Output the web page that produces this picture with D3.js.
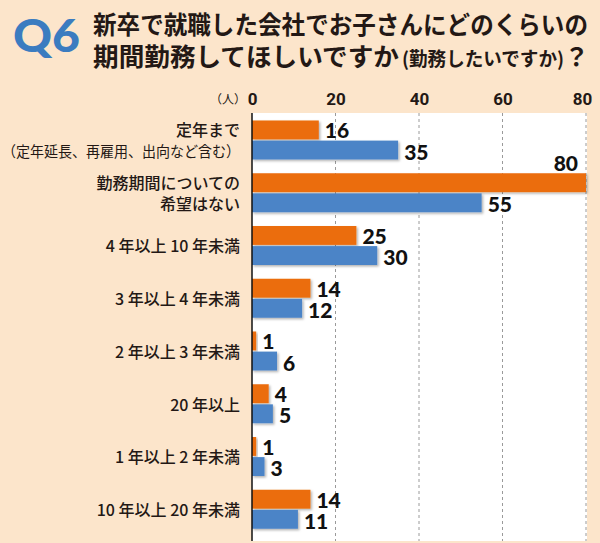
<!DOCTYPE html>
<html><head><meta charset="utf-8">
<script src="https://cdn.jsdelivr.net/npm/d3@7/dist/d3.min.js"></script>
<style>html,body{margin:0;padding:0;background:#FCE5CB;}svg{display:block;}</style>
</head><body><div id="chart"></div>
<script>
const categories = [
  ["定年まで", "（定年延長、再雇用、出向など含む）"],
  ["勤務期間についての", "希望はない"],
  ["4 年以上 10 年未満"],
  ["3 年以上 4 年未満"],
  ["2 年以上 3 年未満"],
  ["20 年以上"],
  ["1 年以上 2 年未満"],
  ["10 年以上 20 年未満"]
];
const seriesOrange = [16, 80, 25, 14, 1, 4, 1, 14];
const seriesBlue = [35, 55, 30, 12, 6, 5, 3, 11];
const tickValues = [0, 20, 40, 60, 80];
const unitLabel = "（人）";
const titleLine1 = "新卒で就職した会社でお子さんにどのくらいの";
const titleLine2a = "期間勤務してほしいですか";
const titleLine2b = "(勤務したいですか)";
const titleLine2c = "？";

const W = 600, H = 543;
const svg = d3.select("#chart").append("svg").attr("width", W).attr("height", H);
svg.append("rect").attr("width", W).attr("height", H).attr("fill", "#FCE5CB");

const defs = svg.append("defs");
const f = defs.append("filter").attr("id", "sh").attr("x", "-10%").attr("y", "-20%").attr("width", "130%").attr("height", "160%");
f.append("feDropShadow").attr("dx", 1.5).attr("dy", 1.5).attr("stdDeviation", 1).attr("flood-color", "#000").attr("flood-opacity", 0.3);

// title
svg.append("text").attr("x", 13).attr("y", 52).attr("font-family", "Lato, 'DejaVu Sans', sans-serif")
  .attr("font-weight", 900).attr("font-size", 45).attr("fill", "#3B7CC0")
  .attr("textLength", 67).attr("lengthAdjust", "spacingAndGlyphs").text("Q6");
const tf = "'Noto Sans CJK JP', sans-serif";
svg.append("text").attr("x", 93).attr("y", 34).attr("font-family", tf).attr("font-weight", 700)
  .attr("font-size", 25).attr("fill", "#231815").attr("textLength", 495).attr("lengthAdjust", "spacingAndGlyphs").text(titleLine1);
const t2 = svg.append("text").attr("y", 66).attr("font-family", tf).attr("font-weight", 700).attr("fill", "#231815");
t2.append("tspan").attr("x", 93).attr("font-size", 25).attr("textLength", 306).attr("lengthAdjust", "spacingAndGlyphs").text(titleLine2a);
t2.append("tspan").attr("x", 402).attr("font-size", 19).attr("textLength", 162).attr("lengthAdjust", "spacingAndGlyphs").text(titleLine2b);
t2.append("tspan").attr("x", 564).attr("font-size", 25).text(titleLine2c);

// scales
const x = d3.scaleLinear().domain([0, 80]).range([252, 586]);
const y0 = d3.scaleBand().domain(d3.range(categories.length)).range([113.5, 535.5]).padding(0);
const y1 = d3.scaleBand().domain(["o", "b"]).range([7, 46]).paddingInner(0.06);

// plot bg
svg.append("rect").attr("x", 252).attr("y", 113).attr("width", 335).attr("height", 428).attr("fill", "#fff");

// gridlines
svg.append("g").selectAll("line").data(tickValues.filter(d => d > 0)).join("line")
  .attr("x1", d => x(d)).attr("x2", d => x(d)).attr("y1", 113).attr("y2", 541)
  .attr("stroke", "#9a9a9a").attr("stroke-width", 1).attr("stroke-dasharray", "3,3");

// top axis tick labels
const axis = d3.axisTop(x).tickValues(tickValues).tickSize(0).tickPadding(0);
const ag = svg.append("g").attr("transform", "translate(0,105)").call(axis);
ag.select(".domain").remove();
ag.selectAll("text").attr("font-family", "'Liberation Sans Narrow', 'Roboto', sans-serif").attr("font-weight", 700)
  .attr("font-size", 17).attr("fill", "#231815").attr("dy", 0)
  .attr("transform", d => d === 80 ? "translate(-4,0)" : null);
svg.append("text").attr("x", 228).attr("y", 104).attr("text-anchor", "middle").attr("font-family", tf)
  .attr("font-size", 12).attr("fill", "#231815").text(unitLabel);

// bars
const g = svg.append("g");
const groups = g.selectAll("g.grp").data(categories.map((c, i) => i)).join("g")
  .attr("transform", i => `translate(0,${y0(i)})`);
groups.append("rect").attr("x", x(0)).attr("y", y1("o")).attr("height", y1.bandwidth())
  .attr("width", i => x(seriesOrange[i]) - x(0)).attr("fill", "#EB6D0A").attr("filter", "url(#sh)");
groups.append("rect").attr("x", x(0)).attr("y", y1("b")).attr("height", y1.bandwidth())
  .attr("width", i => x(seriesBlue[i]) - x(0)).attr("fill", "#4C84C7").attr("filter", "url(#sh)");

const vf = "Lato, 'DejaVu Sans', sans-serif";
groups.append("text")
  .attr("x", i => seriesOrange[i] >= 75 ? x(seriesOrange[i]) - 8 : x(seriesOrange[i]) + 6)
  .attr("y", i => seriesOrange[i] >= 75 ? y1("o") - 11 : y1("o") + y1.bandwidth() / 2)
  .attr("text-anchor", i => seriesOrange[i] >= 75 ? "end" : "start")
  .attr("dominant-baseline", "central").attr("font-family", vf).attr("font-weight", 900)
  .attr("font-size", 21).attr("fill", "#111").text(i => seriesOrange[i]);
groups.append("text")
  .attr("x", i => x(seriesBlue[i]) + 6).attr("y", y1("b") + y1.bandwidth() / 2 + 1)
  .attr("dominant-baseline", "central").attr("font-family", vf).attr("font-weight", 900)
  .attr("font-size", 21).attr("fill", "#111").text(i => seriesBlue[i]);

// axis line
svg.append("line").attr("x1", 252).attr("x2", 252).attr("y1", 113).attr("y2", 541).attr("stroke", "#111").attr("stroke-width", 1.5);

// category labels
groups.each(function (i) {
  const lines = categories[i];
  const sel = d3.select(this);
  const c = y0.bandwidth() / 2;
  lines.forEach((ln, k) => {
    const off = lines.length === 1 ? 0 : (k === 0 ? -10.5 : 10.5);
    const t = sel.append("text").attr("x", 240).attr("y", c + off).attr("text-anchor", "end")
      .attr("dominant-baseline", "central").attr("font-family", tf)
      .attr("font-weight", (i === 0 && k === 1) ? 400 : 500)
      .attr("font-size", 16).attr("fill", "#231815").text(ln);
    if (i === 0 && k === 1) t.attr("font-size", 15).attr("textLength", 238).attr("lengthAdjust", "spacingAndGlyphs");
  });
});
</script></body></html>
